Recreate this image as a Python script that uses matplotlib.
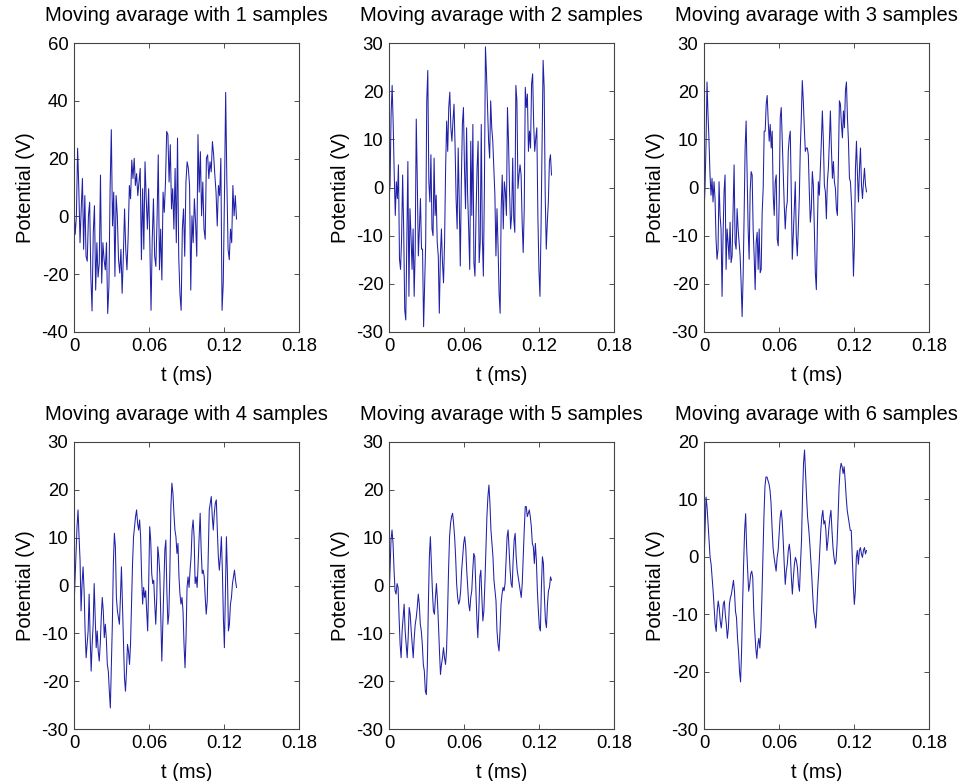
import numpy as np
import matplotlib
matplotlib.use("Agg")
import matplotlib.pyplot as plt

plt.rcParams['font.family'] = ['Liberation Sans', 'DejaVu Sans']
plt.rcParams['axes.unicode_minus'] = False

t_end = 0.13  # ms

v1 = [2.6, -6.2, 0.2, 23.6, 9.6, -9.1, 2.6, 13.1, -11.4, 7.2, -13.8, -15.5, 0.2, 4.9, -21.0,
      -32.7, -5.6, 3.7, -25.5, -9.1, -21.0, -16.1, 14.3, -23.1, -9.1, -15.0, -18.5, -9.1, -33.6,
      -24.3, 9.6, 30.0, -3.3, 8.4, -20.8, 7.2, 0.2, -15.0, -19.6, -11.4, -26.6, -13.8, 2.6, -11.4,
      -18.5, -6.8, 10.7, 6.1, 19.5, 13.1, 20.1, 10.7, 14.8, 7.2, 11.9, 16.6, -15.0, 9.6, -11.4,
      18.9, 6.1, -4.4, 9.6, -9.1, -32.5, -7.9, 6.1, -13.8, -17.3, -0.9, 21.3, -18.5, -4.4, -22.0,
      8.4, 1.4, 11.9, 29.4, 28.3, 11.9, 24.8, 2.6, 9.6, -4.4, 16.6, -9.1, 27.1, -13.8, -26.6,
      -32.5, -4.4, 2.6, -13.8, 11.9, 18.9, 16.6, 10.7, -25.5, 0.2, -9.1, 6.1, -2.1, -13.8, 28.3,
      8.4, 22.4, 0.2, 11.9, -4.4, -7.9, 20.1, 21.3, 13.1, 18.9, 15.4, 25.9, 21.3, 14.3, 8.4, -3.3,
      10.7, 7.2, 20.1, -32.5, -23.1, 7.2, 42.9, 11.9, -11.4, -15.0, -4.4, -9.1, 10.7, 0.2, 7.2, -0.9]

v2 = [-2.3, 0.5, 15.2, 21.2, 13.1, 2.6, -5.8, 1.2, -2.3, 4.7, -14.9, -17.0, -10.7, 2.6, -8.6,
      -25.4, -27.5, -11.4, 5.4, -22.6, -4.4, -10.0, -17.0, -8.6, -22.6, -12.8, 14.2, 1.2, -14.2,
      -8.6, -2.3, -12.8, -12.8, -28.9, -19.8, -11.4, 18.0, 24.3, 1.2, -3.0, 6.8, -8.6, -10.0, 6.1,
      -5.8, -1.6, -11.4, -14.2, -26.1, -14.2, -8.6, -15.6, -19.8, -11.4, 4.0, 13.8, 7.5, 16.6,
      19.8, 12.4, 9.6, 13.8, 17.3, 8.9, -2.3, -8.6, 8.2, -3.0, -16.3, 1.2, 13.1, 16.6, 4.0, -4.4,
      12.4, -1.6, -8.6, -17.0, 9.6, -5.8, 13.1, -15.6, -18.4, -5.8, 4.0, 9.6, -15.6, -11.4, 13.1,
      -10.0, -18.4, -0.2, 29.2, 23.6, 16.6, 9.6, 6.1, 18.0, 12.4, 9.6, 4.0, -1.6, -14.2, -4.4,
      -12.1, -21.9, -26.1, -4.4, 2.6, -8.6, 1.2, -0.9, -5.8, 16.6, 9.6, -0.9, -8.6, -5.8, 6.1,
      -6.5, -9.3, 21.2, 18.0, -0.2, 2.6, 4.7, 2.6, -7.2, -13.5, -4.4, 20.8, 16.6, 19.4, 7.5, 11.7,
      8.2, 21.5, 23.6, 13.1, 7.5, 10.3, 12.4, -5.8, -17.0, -22.6, -8.6, 9.6, 26.4, 20.8, -1.6,
      -12.8, -7.2, -3.0, 5.4, 6.8, 2.6]

v3 = [-5.1, -0.2, 8.9, 21.9, 15.2, 9.6, 2.6, -1.6, 1.9, -3.0, 1.2, -2.3, -10.7, -14.9, -12.8,
      1.2, -5.8, -8.6, -22.6, -10.0, -0.9, 2.6, -17.0, -8.6, -11.4, -14.9, -7.2, -15.6, -14.2,
      -4.4, 4.7, -11.4, -12.8, -4.4, -8.6, -11.4, -14.2, -19.8, -26.8, -18.4, -5.8, 8.2, 13.8,
      2.6, -8.6, -14.9, -0.9, 3.3, 2.6, -8.6, -14.2, -21.2, -11.4, -9.3, -17.0, -8.6, -17.7,
      -17.0, -5.1, -0.2, 11.7, 11.7, 17.3, 19.1, 13.8, 9.6, 13.1, 8.2, 11.7, -1.6, -5.8, 1.2,
      2.6, -10.7, -12.1, -2.3, 14.5, 16.6, 9.6, 1.9, -3.7, -8.6, -4.4, -3.0, 7.5, 10.3, 11.7,
      -0.9, -14.9, -10.0, -4.4, 1.2, -10.0, -14.2, -8.6, -2.3,
      8.2, 14.5, 22.2, 18.0, 12.4, 7.5, 8.2, 8.2, 6.8, -0.9, -7.2, -4.4, 3.3, 0.5, -8.6, -17.7,
      -21.2, -8.6, 1.2, -1.6, 4.0, 9.6, 15.9, 9.6, 0.5, -0.9, -6.5, 1.2, 4.0, 9.6, 15.9, 8.2,
      1.9, 5.4, 1.2, -0.2, -4.4, -5.8, 5.4, 18.0, 17.3, 13.1, 10.3, 15.9, 12.4, 20.1, 21.9, 14.5,
      9.6, 1.9, 1.2, -3.0, -8.6, -18.4, -11.4, 4.0, 9.6, 2.6, -3.0, 4.0, 8.2, 0.5, -2.3, 1.2,
      4.0, 0.5, -0.9]

v4 = [-4.6, 1.1, 6.7, 12.3, 15.8, 10.2, 5.3, -5.3, 0.4, 3.9, -1.1, -9.5, -15.1, -12.3, -9.5,
      -1.8, -10.9, -17.9, -12.3, -8.1, 0.4, -6.7, -13.0, -9.5, -13.7, -15.8, -12.3, -6.7, -2.5,
      -5.3, -10.9, -8.1, -10.9, -16.5, -17.9, -22.1, -25.6, -16.5, -8.1, 4.6, 10.9, 8.1, -2.5,
      -5.3, -6.7, -8.1, -2.5, 3.9, -3.9, -12.3, -19.3, -22.1, -17.9, -12.3, -13.7, -16.5, -12.3,
      -3.9, 4.6, 10.2, 12.3, 14.4, 15.8, 13.0, 11.6, 13.7, 10.2, 1.8, -3.9, -0.4, -2.5, -1.1,
      -5.3, -9.5, 0.4, 12.3, 9.5, 2.5, 0.4, 1.1, -3.9, -8.1, -2.5, 8.1, 6.0, 2.5, -6.7, -15.8,
      -8.1, 0.4, 7.4, 9.5, -1.1, -8.1, -6.0, 3.2, 16.5, 21.4, 19.3, 15.1, 11.6, 10.2, 6.7, 8.8,
      1.8, -1.8, -3.9, -2.5, -5.3, -12.3, -17.2, -10.9, -0.4, 1.8, -0.4, 3.2, 6.0, 11.6, 13.7,
      10.2, 0.4, 1.8, -0.4, 4.6, 10.2, 15.1, 7.4, 2.5, 3.2, 1.8, -2.5, -6.0, -3.2, 6.0, 15.8,
      17.2, 18.6, 14.4, 11.6, 15.1, 17.2, 17.9, 11.6, 6.0, 3.2, 6.0, 10.2, 3.2, -6.7, -13.0,
      -1.1, 10.2, 2.5, -9.5, -8.1, -3.9, -2.5, 0.4, 1.8, 3.2, 1.1, -0.4]

v5 = [-3.2, 3.2, 9.5, 11.6, 8.8, 3.2, -1.1, -1.8, 0.4, -0.4, -6.7, -12.3, -15.1, -9.5, -6.7,
      -3.9, -9.5, -12.3, -15.1, -10.9, -4.6, -6.0, -9.5, -12.3, -15.1, -10.9, -8.1, -6.7, -4.6,
      -1.8, -3.9, -8.1, -9.5, -12.3, -16.5, -17.9, -22.1, -22.8, -16.5, -3.9, 6.0, 10.2, 4.6,
      -1.1, -5.3, -6.0, -2.5, 0.4, -3.2, -8.1, -13.7, -18.6, -16.5, -15.1, -13.0, -15.1, -16.5,
      -13.7, -6.0, 3.2, 10.2, 13.0, 14.4, 15.1, 13.0, 10.2, 6.0, 0.4, -2.5, -3.9, -3.2, -1.1,
      3.2, 6.0, 8.8, 10.2, 8.1, 3.2, -0.4, -3.9, -5.3, -2.5, -1.1, 3.2, 6.7, 6.0, -0.4, -6.7,
      -10.9, -5.3, 1.8, 3.2, -2.5, -7.4, -5.3, 0.4, 7.4, 14.4, 18.6, 21.0, 17.2, 11.6, 8.8, 6.0,
      1.1, -1.1, -3.2, -9.5, -12.3, -13.7, -9.5, -3.9, -1.8, -0.4, -1.1, 0.4, 5.3, 10.2, 11.6,
      7.4, 3.2, 0.4, -0.4, 5.3, 9.5, 10.9, 6.0, 3.2, 1.8, 0.4, -1.1, -2.5, 0.4, 6.0, 11.6, 16.5,
      16.5, 14.4, 15.1, 15.8, 14.4, 12.3, 8.8, 8.1, 4.6, 8.8, 5.3, -1.1, -5.3, -8.8, -9.5, -0.4,
      6.0, 4.6, -2.5, -7.4, -8.8, -3.9, -1.1, -0.4, 1.8, 1.1]

v6 = [-1.3, 4.6, 10.4, 8.7, 5.8, 2.9, -0.1, -1.3, -3.6, -6.0, -8.9, -11.8, -13.0, -9.5, -7.7,
      -8.9, -11.2, -12.4, -10.6, -8.2, -7.7, -10.1, -11.8, -14.2, -12.4, -8.3, -7.1, -6.5, -5.3,
      -4.1, -6.0, -9.5, -10.6, -14.2, -16.5, -20.0, -21.8, -16.5, -8.3, -1.3, 4.6, 7.5, 1.6,
      -2.5, -6.0, -4.8, -3.0, -2.5, -3.6, -9.5, -13.0, -15.9, -17.7, -15.3, -14.2, -15.9, -13.0,
      -7.1, -0.1, 6.9, 12.2, 13.9, 13.9, 13.3, 12.7, 11.6, 9.4, 5.1, 1.6, -0.1, -1.3, -2.5, -0.1,
      1.1, 4.0, 6.9, 8.1, 6.3, 2.8, -1.3, -4.8, -2.5, -1.3, 1.1, 2.2, 0.5, -3.6, -6.5, -3.6,
      -1.3, -0.1, -0.7, -1.9, -4.8, -6.0, -1.3,
      2.8, 10.4, 16.3, 18.6, 14.5, 10.4, 6.9, 5.1, 2.8, -0.1, -3.0, -6.5, -9.5, -10.6, -12.4,
      -9.5, -5.4, -2.5, 1.1, 4.6, 6.9, 8.1, 5.7, 6.3, 4.6, 1.1, 2.8, 5.1, 6.9, 8.1, 4.6, 1.6,
      -0.1, -1.3, -0.7, 2.2, 6.9, 12.2, 15.1, 16.3, 15.7, 14.5, 15.7, 13.3, 10.4, 8.1, 6.9, 5.7,
      4.6, 4.6, -0.1, -4.8, -8.3, -6.0, -0.1, 1.1, -1.3, 1.1, 1.6, 0.5, -0.1, 1.1, 1.6, 0.5, 1.1]

series = [v1, v2, v3, v4, v5, v6]
titles = ["Moving avarage with %d samples" % k for k in range(1, 7)]
ylims = [(-40, 60), (-30, 30), (-30, 30), (-30, 30), (-30, 30), (-30, 20)]
yticks = [[-40, -20, 0, 20, 40, 60],
          [-30, -20, -10, 0, 10, 20, 30],
          [-30, -20, -10, 0, 10, 20, 30],
          [-30, -20, -10, 0, 10, 20, 30],
          [-30, -20, -10, 0, 10, 20, 30],
          [-30, -20, -10, 0, 10, 20]]
xticks = [0, 0.06, 0.12, 0.18]
xticklabels = ["0", "0.06", "0.12", "0.18"]

W, H = 960, 781
fig = plt.figure(figsize=(W / 100, H / 100), dpi=100)
lefts = [74, 389, 704]
row_tops = [43, 442]
row_bottoms = [332, 729]
aw = 225

for i, v in enumerate(series):
    r, c = divmod(i, 3)
    x0 = lefts[c]
    top, bot = row_tops[r], row_bottoms[r]
    ax = fig.add_axes([x0 / W, 1 - bot / H, aw / W, (bot - top) / H])
    t = np.linspace(0, t_end, len(v))
    ax.plot(t, v, color='#2020a8', lw=0.75)
    ax.set_xlim(0, 0.18)
    ax.set_ylim(*ylims[i])
    ax.set_xticks(xticks)
    ax.set_xticklabels(xticklabels)
    ax.set_yticks(yticks[i])
    ax.tick_params(direction='in', length=3.5, width=0.6, top=True, right=True,
                   labelsize=13.3, colors='#333333', labelcolor='black', pad=4)
    for s in ax.spines.values():
        s.set_color('#444444')
        s.set_linewidth(0.8)
    ax.set_title(titles[i], fontsize=14.5, pad=16)
    ax.set_xlabel("t (ms)", fontsize=14.5, labelpad=8)
    ax.set_ylabel("Potential (V)", fontsize=14.5, labelpad=4.5)

fig.savefig("out.png", dpi=100)
